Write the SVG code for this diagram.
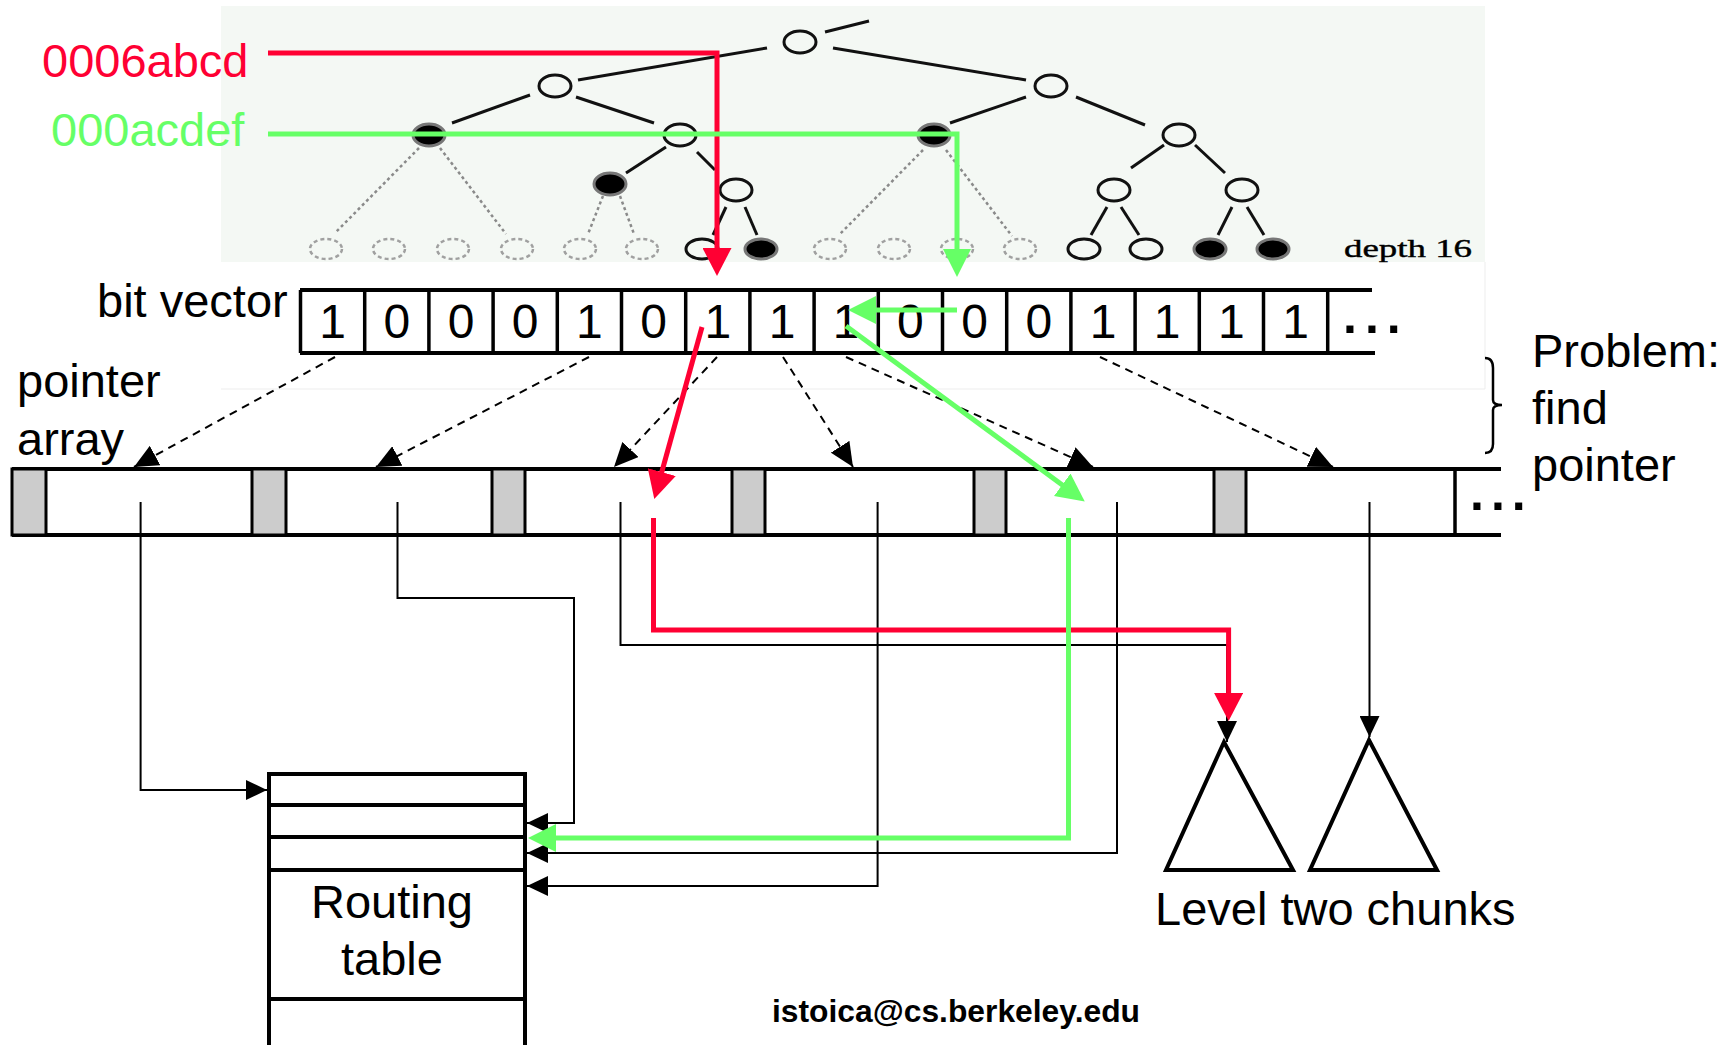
<svg xmlns="http://www.w3.org/2000/svg" width="1734" height="1045" viewBox="0 0 1734 1045">
  <style>
    .t { font-family: "Liberation Sans", Arial, sans-serif; font-size: 47px; fill: #000; }
    .bit { font-family: "Liberation Sans", Arial, sans-serif; font-size: 48px; fill: #000; text-anchor: middle; }
    .dots { font-family: "Liberation Sans", Arial, sans-serif; font-size: 50px; font-weight: bold; fill: #000; }
    .edge { stroke: #111; stroke-width: 3; fill: none; }
    .ghost { stroke: #8a8a8a; stroke-width: 2.5; stroke-dasharray: 3 3; fill: none; }
    .open { fill: none; stroke: #111; stroke-width: 3; }
    .full { fill: #000; stroke: #777; stroke-width: 3; }
    .faded { fill: none; stroke: #a0a0a0; stroke-width: 2.5; stroke-dasharray: 4 3; }
    .frame { stroke: #000; stroke-width: 4; fill: none; }
    .cell { stroke: #000; stroke-width: 3.5; }
    .gray { fill: #cccccc; stroke: #000; stroke-width: 3; }
    .ptr { stroke: #000; stroke-width: 2; fill: none; }
    .dash { stroke: #000; stroke-width: 2; fill: none; stroke-dasharray: 8 6; }
    .red { stroke: #ff0033; stroke-width: 5; fill: none; }
    .green { stroke: #66ff66; stroke-width: 5; fill: none; }
  </style>
  <defs>
    <marker id="headDash" markerUnits="userSpaceOnUse" markerWidth="24" markerHeight="22" refX="24" refY="11" orient="auto">
      <path d="M0,0 L24,11 L0,22 z" fill="#000"/>
    </marker>
    <marker id="headPtr" markerUnits="userSpaceOnUse" markerWidth="21" markerHeight="20" refX="21" refY="10" orient="auto">
      <path d="M0,0 L21,10 L0,20 z" fill="#000"/>
    </marker>
    <marker id="headRed" markerUnits="userSpaceOnUse" markerWidth="28" markerHeight="29" refX="1" refY="14.5" orient="auto">
      <path d="M0,0 L28,14.5 L0,29 z" fill="#ff0033"/>
    </marker>
    <marker id="headGreen" markerUnits="userSpaceOnUse" markerWidth="28" markerHeight="28" refX="1" refY="14" orient="auto">
      <path d="M0,0 L28,14 L0,28 z" fill="#66ff66"/>
    </marker>
  </defs>

  <rect width="1734" height="1045" fill="#ffffff"/>

  <!-- trie picture -->
  <g id="trie">
    <rect x="221" y="6" width="1264" height="256" fill="#f4f8f4"/>
    <path d="M221,389 H1485 V262" stroke="#ededed" stroke-width="1" fill="none"/>
    <g>
      <line class="edge" x1="825" y1="32" x2="869" y2="21"/>
      <line class="edge" x1="767" y1="48" x2="578" y2="80"/>
      <line class="edge" x1="833" y1="48" x2="1026" y2="80"/>
      <line class="edge" x1="530" y1="95" x2="452" y2="123"/>
      <line class="edge" x1="576" y1="97" x2="654" y2="123"/>
      <line class="edge" x1="666" y1="147" x2="626" y2="173"/>
      <line class="edge" x1="697" y1="152" x2="715" y2="170"/>
      <line class="edge" x1="726" y1="207" x2="713" y2="235"/>
      <line class="edge" x1="745" y1="207" x2="757" y2="235"/>
      <line class="edge" x1="1026" y1="97" x2="950" y2="123"/>
      <line class="edge" x1="1076" y1="97" x2="1145" y2="125"/>
      <line class="edge" x1="1164" y1="145" x2="1131" y2="168"/>
      <line class="edge" x1="1195" y1="145" x2="1225" y2="173"/>
      <line class="edge" x1="1107" y1="207" x2="1091" y2="235"/>
      <line class="edge" x1="1121" y1="207" x2="1139" y2="235"/>
      <line class="edge" x1="1232" y1="207" x2="1218" y2="235"/>
      <line class="edge" x1="1247" y1="207" x2="1264" y2="235"/>
      <line class="ghost" x1="419" y1="148" x2="336" y2="232"/>
      <line class="ghost" x1="440" y1="148" x2="506" y2="234"/>
      <line class="ghost" x1="603" y1="196" x2="588" y2="234"/>
      <line class="ghost" x1="620" y1="196" x2="634" y2="234"/>
      <line class="ghost" x1="923" y1="150" x2="840" y2="234"/>
      <line class="ghost" x1="946" y1="150" x2="1012" y2="236"/>
    </g>
    <g>
      <ellipse class="open" cx="800" cy="42" rx="16" ry="11"/>
      <ellipse class="open" cx="555" cy="86" rx="16" ry="11"/>
      <ellipse class="open" cx="1051" cy="86" rx="16" ry="11"/>
      <ellipse class="full" cx="429" cy="135" rx="16" ry="11"/>
      <ellipse class="open" cx="680" cy="135" rx="16" ry="11"/>
      <ellipse class="full" cx="934" cy="135" rx="16" ry="11"/>
      <ellipse class="open" cx="1179" cy="135" rx="16" ry="11"/>
      <ellipse class="full" cx="610" cy="184" rx="16" ry="11"/>
      <ellipse class="open" cx="736" cy="190" rx="16" ry="11"/>
      <ellipse class="open" cx="1114" cy="190" rx="16" ry="11"/>
      <ellipse class="open" cx="1242" cy="190" rx="16" ry="11"/>
      <ellipse class="faded" cx="326" cy="249" rx="16" ry="10"/>
      <ellipse class="faded" cx="389" cy="249" rx="16" ry="10"/>
      <ellipse class="faded" cx="453" cy="249" rx="16" ry="10"/>
      <ellipse class="faded" cx="517" cy="249" rx="16" ry="10"/>
      <ellipse class="faded" cx="580" cy="249" rx="16" ry="10"/>
      <ellipse class="faded" cx="642" cy="249" rx="16" ry="10"/>
      <ellipse class="open" cx="702" cy="249" rx="16" ry="10"/>
      <ellipse class="full" cx="761" cy="249" rx="16" ry="10"/>
      <ellipse class="faded" cx="830" cy="249" rx="16" ry="10"/>
      <ellipse class="faded" cx="894" cy="249" rx="16" ry="10"/>
      <ellipse class="faded" cx="957" cy="249" rx="16" ry="10"/>
      <ellipse class="faded" cx="1020" cy="249" rx="16" ry="10"/>
      <ellipse class="open" cx="1084" cy="249" rx="16" ry="10"/>
      <ellipse class="open" cx="1146" cy="249" rx="16" ry="10"/>
      <ellipse class="full" cx="1210" cy="249" rx="16" ry="10"/>
      <ellipse class="full" cx="1273" cy="249" rx="16" ry="10"/>
    </g>
    <text x="1344" y="257" font-family="'Liberation Serif', 'Times New Roman', serif" font-size="26" textLength="128" lengthAdjust="spacingAndGlyphs" stroke="#000" stroke-width="0.4">depth 16</text>
  </g>

  <!-- address labels -->
  <g id="addr-red">
    <text class="t" x="42" y="77" font-size="48" style="fill:#ff0033">0006abcd</text>
  </g>
  <g id="addr-green">
    <text class="t" x="51" y="146" font-size="48" style="fill:#66ff66">000acdef</text>
  </g>

  <!-- bit vector -->
  <g id="bit-vector">
    <text class="t" x="97" y="317">bit vector</text>
    <line class="frame" x1="300" y1="290" x2="1372" y2="290"/>
    <line class="frame" x1="300" y1="353" x2="1375" y2="353"/>
    <g class="cell">
      <line x1="300.5" y1="290" x2="300.5" y2="353"/>
      <line x1="364.7" y1="290" x2="364.7" y2="353"/>
      <line x1="428.9" y1="290" x2="428.9" y2="353"/>
      <line x1="493.1" y1="290" x2="493.1" y2="353"/>
      <line x1="557.3" y1="290" x2="557.3" y2="353"/>
      <line x1="621.5" y1="290" x2="621.5" y2="353"/>
      <line x1="685.7" y1="290" x2="685.7" y2="353"/>
      <line x1="749.9" y1="290" x2="749.9" y2="353"/>
      <line x1="814.1" y1="290" x2="814.1" y2="353"/>
      <line x1="878.3" y1="290" x2="878.3" y2="353"/>
      <line x1="942.5" y1="290" x2="942.5" y2="353"/>
      <line x1="1006.7" y1="290" x2="1006.7" y2="353"/>
      <line x1="1070.9" y1="290" x2="1070.9" y2="353"/>
      <line x1="1135.1" y1="290" x2="1135.1" y2="353"/>
      <line x1="1199.3" y1="290" x2="1199.3" y2="353"/>
      <line x1="1263.5" y1="290" x2="1263.5" y2="353"/>
      <line x1="1327.7" y1="290" x2="1327.7" y2="353"/>
    </g>
    <text class="bit" x="332.6" y="338">1</text>
    <text class="bit" x="396.8" y="338">0</text>
    <text class="bit" x="461" y="338">0</text>
    <text class="bit" x="525.2" y="338">0</text>
    <text class="bit" x="589.4" y="338">1</text>
    <text class="bit" x="653.6" y="338">0</text>
    <text class="bit" x="717.8" y="338">1</text>
    <text class="bit" x="782" y="338">1</text>
    <text class="bit" x="846.2" y="338">1</text>
    <text class="bit" x="910.4" y="338">0</text>
    <text class="bit" x="974.6" y="338">0</text>
    <text class="bit" x="1038.8" y="338">0</text>
    <text class="bit" x="1103" y="338">1</text>
    <text class="bit" x="1167.2" y="338">1</text>
    <text class="bit" x="1231.4" y="338">1</text>
    <text class="bit" x="1295.6" y="338">1</text>
    <text class="dots" x="1343" y="333" letter-spacing="8">...</text>
  </g>

  <!-- pointer array -->
  <g id="pointer-array">
    <text class="t" x="17" y="397">pointer</text>
    <text class="t" x="17" y="455">array</text>
    <line class="frame" x1="12" y1="469" x2="1501" y2="469" stroke-width="3.5"/>
    <line class="frame" x1="12" y1="535" x2="1501" y2="535" stroke-width="3.5"/>
    <rect class="gray" x="12" y="469" width="34" height="66"/>
    <rect class="gray" x="252" y="469" width="34" height="66"/>
    <rect class="gray" x="492" y="469" width="33" height="66"/>
    <rect class="gray" x="732" y="469" width="33" height="66"/>
    <rect class="gray" x="974" y="469" width="32" height="66"/>
    <rect class="gray" x="1214" y="469" width="32" height="66"/>
    <line class="cell" x1="1455" y1="469" x2="1455" y2="535" stroke-width="3"/>
    <text class="dots" x="1470" y="510" letter-spacing="7">...</text>
  </g>

  <!-- problem note -->
  <g id="problem-note">
    <path d="M1485,358 Q1493,358 1493,368 V400 Q1493,405 1502,405 Q1493,405 1493,410 V444 Q1493,453 1485,453" stroke="#000" stroke-width="2.5" fill="none"/>
    <text class="t" x="1532" y="367">Problem:</text>
    <text class="t" x="1532" y="424">find</text>
    <text class="t" x="1532" y="481">pointer</text>
  </g>

  <!-- routing table -->
  <g id="routing-table">
    <path class="frame" d="M269,1047 V774 H525 V1047"/>
    <line class="frame" x1="269" y1="805" x2="525" y2="805"/>
    <line class="frame" x1="269" y1="837" x2="525" y2="837"/>
    <line class="frame" x1="269" y1="870" x2="525" y2="870"/>
    <line class="frame" x1="269" y1="999" x2="525" y2="999"/>
    <text class="t" x="392" y="918" text-anchor="middle">Routing</text>
    <text class="t" x="392" y="975" text-anchor="middle">table</text>
  </g>

  <!-- level two chunks -->
  <g id="chunk-1">
    <path d="M1224,742 L1166,870 H1293 Z" stroke="#000" stroke-width="4" fill="none"/>
  </g>
  <g id="chunk-2">
    <path d="M1369,740 L1310,870 H1437 Z" stroke="#000" stroke-width="4" fill="none"/>
  </g>
  <g id="chunks-label">
    <text class="t" x="1155" y="925" font-size="47.5">Level two chunks</text>
  </g>

  <g id="footer">
    <text x="772" y="1022" font-family="'Liberation Sans', Arial, sans-serif" font-size="31.8" font-weight="bold">istoica@cs.berkeley.edu</text>
  </g>

  <!-- connectors -->
  <g id="connectors">
    <!-- bit vector to pointer array -->
    <line class="dash" x1="335" y1="357" x2="134" y2="467" marker-end="url(#headDash)"/>
    <line class="dash" x1="589" y1="357" x2="376" y2="467" marker-end="url(#headDash)"/>
    <line class="dash" x1="717" y1="357" x2="614" y2="467" marker-end="url(#headDash)"/>
    <line class="dash" x1="783" y1="357" x2="853" y2="467" marker-end="url(#headDash)"/>
    <line class="dash" x1="846" y1="357" x2="1093" y2="467" marker-end="url(#headDash)"/>
    <line class="dash" x1="1100" y1="357" x2="1333" y2="467" marker-end="url(#headDash)"/>

    <!-- pointer array to routing table and chunks -->
    <path class="ptr" d="M140.6,502 V790 H267" marker-end="url(#headPtr)"/>
    <path class="ptr" d="M397.5,502 V598 H574 V823 H527" marker-end="url(#headPtr)"/>
    <path class="ptr" d="M620.5,502 V645 H1227 V742" marker-end="url(#headPtr)"/>
    <path class="ptr" d="M877.6,502 V886 H527" marker-end="url(#headPtr)"/>
    <path class="ptr" d="M1117,502 V853 H527" marker-end="url(#headPtr)"/>
    <path class="ptr" d="M1369.5,502 V737" marker-end="url(#headPtr)"/>

    <!-- lookup of 0006abcd -->
    <path class="red" d="M268,53 H717 V249" marker-end="url(#headRed)"/>
    <line class="red" x1="702" y1="327" x2="661.5" y2="473" marker-end="url(#headRed)"/>
    <path class="red" d="M653.5,518 V630 H1228.6 V694" marker-end="url(#headRed)"/>

    <!-- lookup of 000acdef -->
    <path class="green" d="M268,134 H957 V250" marker-end="url(#headGreen)"/>
    <line class="green" x1="957" y1="310" x2="875" y2="310" marker-end="url(#headGreen)"/>
    <line class="green" x1="846" y1="326" x2="1063" y2="485.4" marker-end="url(#headGreen)"/>
    <path class="green" d="M1068.5,518 V838 H555" marker-end="url(#headGreen)"/>
  </g>
</svg>
